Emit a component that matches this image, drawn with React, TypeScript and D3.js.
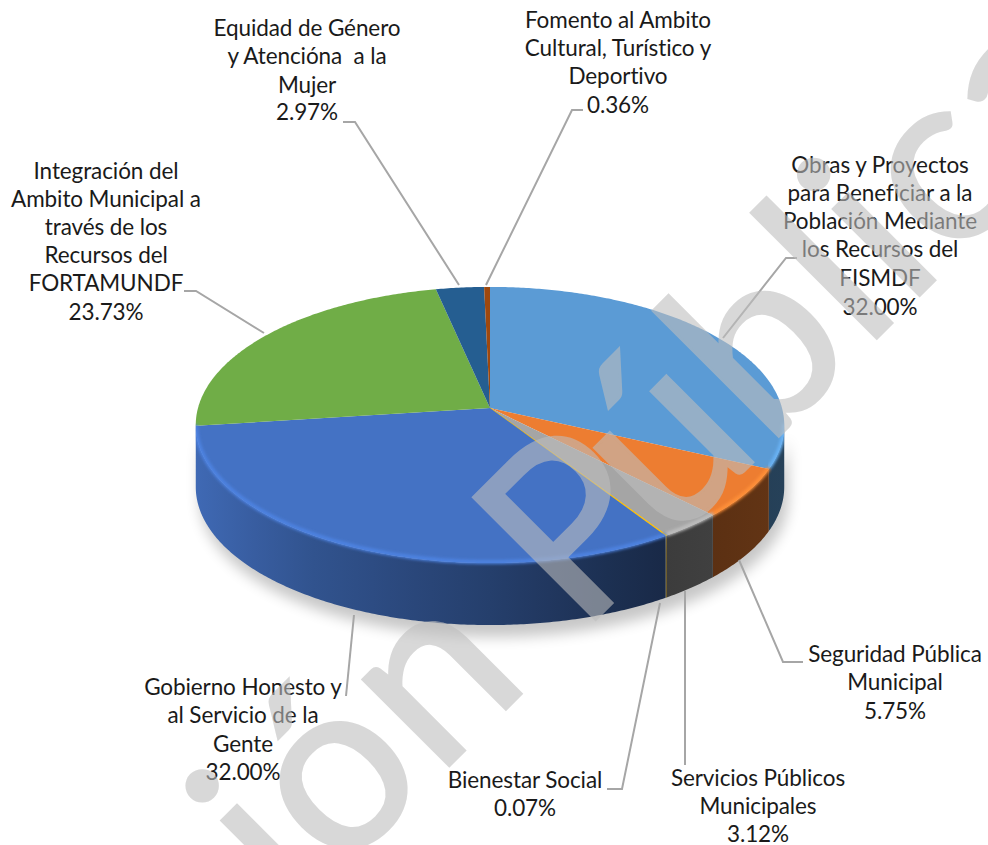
import React from 'react';
import * as d3 from 'd3';

const categories = [
  'Obras y Proyectos para Beneficiar a la Población Mediante los Recursos del FISMDF',
  'Seguridad Pública Municipal',
  'Servicios Públicos Municipales',
  'Bienestar Social',
  'Gobierno Honesto y al Servicio de la Gente',
  'Integración del Ambito Municipal a través de los Recursos del FORTAMUNDF',
  'Equidad de Género y Atencióna a la Mujer',
  'Fomento al Ambito Cultural, Turístico y Deportivo',
];
const values = [32.0, 5.75, 3.12, 0.07, 32.0, 23.73, 2.97, 0.36];
const colors = ['#5B9BD5', '#ED7D31', '#A5A5A5', '#FFC000', '#4472C4', '#70AD47', '#255E91', '#9E480E'];
const labelLines = [
  ['Obras y Proyectos', 'para Beneficiar a la', 'Población Mediante', 'los Recursos del', 'FISMDF', '32.00%'],
  ['Seguridad Pública', 'Municipal', '5.75%'],
  ['Servicios Públicos', 'Municipales', '3.12%'],
  ['Bienestar Social', '0.07%'],
  ['Gobierno Honesto y', 'al Servicio de la', 'Gente', '32.00%'],
  ['Integración del', 'Ambito Municipal a', 'través de los', 'Recursos del', 'FORTAMUNDF', '23.73%'],
  ['Equidad de Género', 'y Atencióna  a la', 'Mujer', '2.97%'],
  ['Fomento al Ambito', 'Cultural, Turístico y', 'Deportivo', '0.36%'],
];
const labelX = [880, 895, 758, 525, 243, 106, 307, 618];
const labelY = [
  [173, 201, 229, 257, 286, 315],
  [662, 690, 719],
  [786, 814, 842],
  [788, 816],
  [695, 723, 752, 780],
  [179, 207, 235, 263, 291, 320],
  [36, 64, 93, 120],
  [28, 56, 84, 113],
];
const leaders = [
  [[797, 258], [786, 258], [723, 338]],
  [[803, 662], [783, 662], [739, 560]],
  [[685, 765], [685, 591]],
  [[607, 789], [622, 789], [660, 603]],
  [[346, 696], [354, 615]],
  [[184, 291], [196, 291], [264, 333]],
  [[343, 122], [355, 122], [459, 285]],
  [[583, 110], [572, 110], [486, 285]],
];

const W = 988, H = 845;
const cx = 490, cy = 408, R = 292, S = 136, K = 0.123, DEPTH = 62;
const project = (a: number): [number, number] => {
  const u = Math.sin(a), v = -Math.cos(a), d = 1 - K * v;
  return [cx + (R * u) / d, cy + (S * v) / d];
};
const FRONT0 = (97 * Math.PI) / 180, FRONT1 = (263 * Math.PI) / 180;
const sample = (a0: number, a1: number) => {
  const n = Math.max(2, Math.ceil(Math.abs(a1 - a0) / 0.01));
  return d3.range(n + 1).map((i) => project(a0 + ((a1 - a0) * i) / n));
};
const line = d3.line();
const arcs = d3.pie<number>().sort(null).startAngle(0).endAngle(2 * Math.PI)(values);
const shadeX = d3.scaleLinear().domain([196, 300, 490, 660, 784]).range([0.92, 0.74, 0.55, 0.36, 0.42]);
const gradStops = d3.range(0, 1.001, 0.1);

export default function App() {
  const outline = sample(FRONT0, FRONT1);
  const lower: [number, number][] = outline.map(([x, y]) => [x, y + DEPTH + 6]);
  const shadowPath = line([...outline, ...lower.reverse()])! + 'Z';
  const full = sample(0, 2 * Math.PI);
  const bodyLower: [number, number][] = outline.map(([x, y]) => [x, y + DEPTH]);
  return (
    <svg width={W} height={H} viewBox={`0 0 ${W} ${H}`} style={{ position: 'absolute', left: 0, top: 0, background: '#fff' }}>
      <defs>
        <filter id="soft" x="-10%" y="-20%" width="120%" height="140%"><feGaussianBlur stdDeviation="7" /></filter>
        <filter id="rim" x="-5%" y="-20%" width="110%" height="140%"><feGaussianBlur stdDeviation="1.6" /></filter>
        <clipPath id="body">
          <path d={line(full)! + 'Z'} />
          <path d={line([...outline, ...bodyLower.reverse()])! + 'Z'} />
        </clipPath>
        {arcs.map((d, i) => (
          <linearGradient key={i} id={`side${i}`} gradientUnits="userSpaceOnUse" x1={196} x2={784} y1={0} y2={0}>
            {gradStops.map((t) => {
              const x = 196 + t * 588;
              const c = d3.rgb(colors[i]);
              const f = shadeX(x);
              return <stop key={t} offset={t} stopColor={d3.rgb(c.r * f, c.g * f, c.b * f).formatHex()} />;
            })}
          </linearGradient>
        ))}
      </defs>
      <path d={shadowPath} fill="#000" opacity={0.22} filter="url(#soft)" transform="translate(4,6)" />
      {arcs.map((d, i) => {
        const a0 = Math.max(d.startAngle, FRONT0), a1 = Math.min(d.endAngle, FRONT1);
        if (a1 <= a0) return null;
        const top = sample(a0, a1);
        const bot: [number, number][] = top.map(([x, y]) => [x, y + DEPTH]);
        return <path key={i} d={line([...top, ...bot.reverse()])! + 'Z'} fill={`url(#side${i})`} />;
      })}
      {arcs.map((d, i) => (
        <path key={i} d={line([[cx, cy], ...sample(d.startAngle, d.endAngle)])! + 'Z'} fill={colors[i]} stroke={i === 3 ? colors[i] : 'none'} strokeWidth={i === 3 ? 1 : 0} />
      ))}
      <g clipPath="url(#body)">
        {arcs.map((d, i) => {
          const a0 = Math.max(d.startAngle, FRONT0), a1 = Math.min(d.endAngle, FRONT1);
          if (a1 <= a0) return null;
          const c = d3.color(colors[i])!.brighter(0.4).formatHex();
          const pts: [number, number][] = sample(a0, a1).map(([x, y]) => [x, y - 1]);
          return <path key={i} d={line(pts)!} fill="none" stroke={c} strokeWidth={4} filter="url(#rim)" />;
        })}
      </g>
      {leaders.map((pts, i) => (
        <path key={i} d={line(pts as [number, number][])!} fill="none" stroke="#A6A6A6" strokeWidth={2} />
      ))}
      <g fontFamily="Lato, 'Open Sans', sans-serif" fontSize={22.5} fill="#1a1a1a" textAnchor="middle" letterSpacing={-0.1}>
        {labelLines.map((ls, i) => (
          <text key={i} aria-label={categories[i]}>
            {ls.map((t, j) => (
              <tspan key={j} x={labelX[i]} y={labelY[i][j]} xmlSpace="preserve">{t}</tspan>
            ))}
          </text>
        ))}
      </g>
      <g opacity={0.59}>
        <text
          transform="translate(-41,1256) rotate(-45)"
          fontFamily="Lato, sans-serif"
          fontSize={241}
          letterSpacing={3}
          fill="rgb(190,190,190)"
          stroke="rgb(190,190,190)"
          strokeWidth={3}
        >
          Versión P<tspan dx={-20}>ública</tspan>
        </text>
      </g>
    </svg>
  );
}
